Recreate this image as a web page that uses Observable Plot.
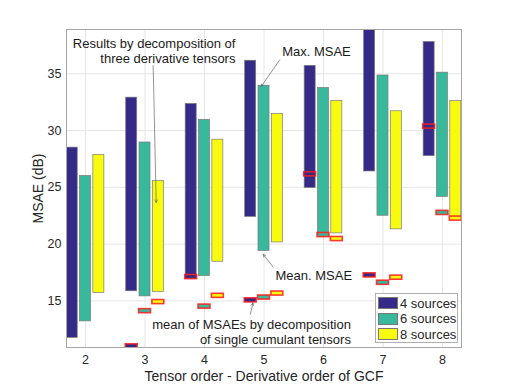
<!DOCTYPE html>
<html>
<head>
<meta charset="utf-8">
<script src="https://cdn.jsdelivr.net/npm/d3@7"></script>
<script src="https://cdn.jsdelivr.net/npm/@observablehq/plot@0.6"></script>
<style>
  body { margin: 0; background: #fff; }
  #wrap { position: relative; width: 509px; height: 390px; font-family: "Liberation Sans", Arial, sans-serif; }
  #legend { position: absolute; left: 375px; top: 293px; width: 83px; height: 50px; box-sizing: border-box;
    border: 1px solid #b0b0b0; background: #fff; font-size: 13px; color: #262626; }
  .row { position: absolute; left: 2px; height: 14px; width: 80px; display: flex; align-items: center; white-space: nowrap; }
  .sw { width: 18px; height: 10px; border: 1px solid #777; margin-right: 2px; flex: none; }
</style>
</head>
<body>
<div id="wrap"></div>
<script>
// Tensor order (x categories)
const orders = [2, 3, 4, 5, 6, 7, 8];
const seriesNames = ["4 sources", "6 sources", "8 sources"];
const colors = ["#352a87", "#38b99c", "#f9fb0e"];
// Bars: from "Mean. MSAE" (low) to "Max. MSAE" (high), dB
const max4 = [28.5, 32.9, 32.35, 36.15, 35.7, 40.0, 37.8];
const min4 = [11.75, 15.85, 17.25, 22.4, 24.95, 26.4, 27.75];
const max6 = [26.0, 28.95, 30.95, 33.95, 33.75, 34.85, 35.1];
const min6 = [13.2, 15.4, 17.2, 19.4, 21.0, 22.5, 24.15];
const max8 = [27.85, 25.55, 29.2, 31.45, 32.6, 31.7, 32.6];
const min8 = [15.7, 15.8, 18.45, 20.15, 20.95, 21.3, 22.4];
// Mean of MSAEs by decomposition of single cumulant tensors
const single4 = [null, 11.0, 17.1, 15.05, 26.15, 17.25, 30.35];
const single6 = [null, 14.1, 14.5, 15.3, 20.8, 16.6, 22.75];
const single8 = [null, 14.9, 15.45, 15.65, 20.45, 17.05, 22.25];
const yTicks = [15, 20, 25, 30, 35];

const maxs = [max4, max6, max8], mins = [min4, min6, min8], singles = [single4, single6, single8];
const rows = [];
orders.forEach((o, i) => seriesNames.forEach((s, k) => rows.push({
  order: o, k, series: s, lo: mins[k][i], hi: maxs[k][i], single: singles[k][i]
})));
const off = k => (k - 1) * 0.224;
const bw = 0.0925, mw = 0.1, mh = 0.18;

// annotations (data coordinates)
const notesEnd = [
  {x: 4.52, y: 37.05, text: "Results by decomposition of\nthree derivative tensors"},
  {x: 6.461, y: 12.29, text: "mean of MSAEs by decomposition\nof single cumulant tensors"}
];
const notesStart = [
  {x: 5.305, y: 36.9, text: "Max. MSAE"},
  {x: 5.193, y: 17.25, text: "Mean. MSAE"}
];
const arrows = [
  {x1: 3.137, y1: 35.72, x2: 3.188, y2: 23.66},
  {x1: 5.265, y1: 36.23, x2: 4.952, y2: 33.87},
  {x1: 5.154, y1: 17.98, x2: 4.986, y2: 19.10},
  {x1: 4.772, y1: 13.83, x2: 4.814, y2: 14.83}
];

const chart = Plot.plot({
  width: 509, height: 390,
  marginLeft: 66, marginRight: 48, marginTop: 29, marginBottom: 43,
  style: {fontFamily: "Liberation Sans, Arial, sans-serif", fontSize: "12.5px", color: "#262626", background: "#fff"},
  x: {domain: [1.68, 8.32], ticks: orders},
  y: {domain: [10.9, 38.9], ticks: yTicks},
  marks: [
    Plot.gridX(orders, {stroke: "#e6e6e6", strokeOpacity: 1}),
    Plot.gridY(yTicks, {stroke: "#e6e6e6", strokeOpacity: 1}),
    Plot.rect(rows, {
      x1: d => d.order + off(d.k) - bw, x2: d => d.order + off(d.k) + bw,
      y1: "lo", y2: "hi", fill: d => colors[d.k], stroke: "#7a7a7a", strokeWidth: 0.7, clip: true
    }),
    Plot.rect(rows.filter(d => d.single != null), {
      x1: d => d.order + off(d.k) - mw, x2: d => d.order + off(d.k) + mw,
      y1: d => d.single - mh, y2: d => d.single + mh,
      fill: d => colors[d.k], stroke: "#ff1a1a", strokeWidth: 1.6, strokeOpacity: 0.85, clip: true
    }),
    Plot.frame({stroke: "#a6a6a6"}),
    Plot.axisX(orders, {tickSize: 0, tickPadding: 8, fontSize: 12.5,
      label: "Tensor order - Derivative order of GCF", labelAnchor: "center", labelOffset: 33, labelArrow: "none"}),
    Plot.axisY(yTicks, {tickSize: 0, tickPadding: 5, fontSize: 12.5,
      label: "MSAE (dB)", labelAnchor: "center", labelOffset: 33, labelArrow: "none"}),
    Plot.arrow(arrows, {x1: "x1", y1: "y1", x2: "x2", y2: "y2", stroke: "#666", strokeWidth: 0.7, headLength: 6, headAngle: 50}),
    Plot.text(notesEnd, {x: "x", y: "y", text: "text", textAnchor: "end", fontSize: 13, fill: "#1a1a1a", lineHeight: 1.2}),
    Plot.text(notesStart, {x: "x", y: "y", text: "text", textAnchor: "start", fontSize: 13, fill: "#1a1a1a"})
  ]
});
const wrap = document.getElementById("wrap");
wrap.appendChild(chart);
chart.querySelectorAll("[aria-label='x-axis label'] text, [aria-label='y-axis label'] text").forEach(t => {
  t.style.fontSize = "14px";
  t.textContent = t.textContent.replace(/\s*[→↑]\s*/g, "").replace(/^[↑→]\s*/, "");
});

const leg = document.createElement("div");
leg.id = "legend";
seriesNames.forEach((s, k) => {
  const r = document.createElement("div");
  r.className = "row";
  r.style.top = (2 + k * 15.5) + "px";
  r.innerHTML = `<span class="sw" style="background:${colors[k]}"></span><span>${s}</span>`;
  leg.appendChild(r);
});
wrap.appendChild(leg);
</script>
</body>
</html>
